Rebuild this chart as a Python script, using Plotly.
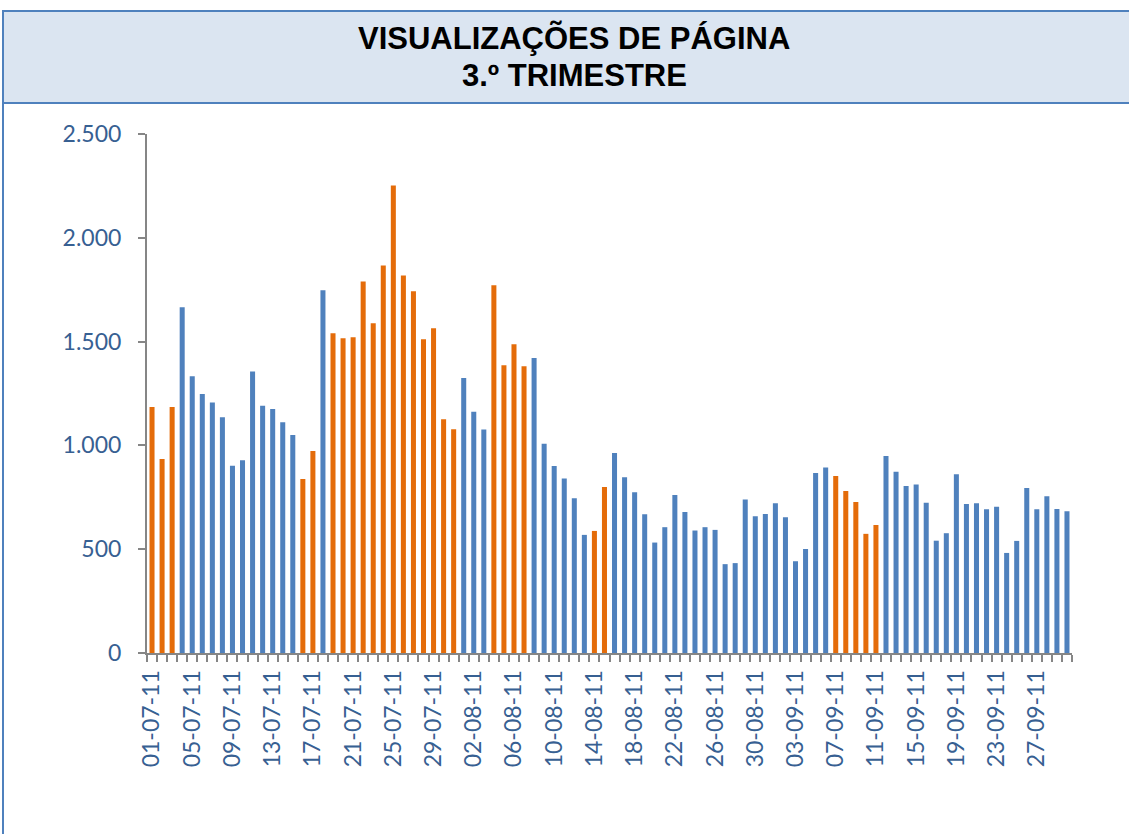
import plotly.graph_objects as go

# ---- data ----
july = [1185, 935, 1185, 1665, 1333, 1248, 1207, 1135, 902, 928, 1356, 1191, 1175, 1111, 1050,
        838, 973, 1747, 1540, 1516, 1521, 1790, 1588, 1867, 2252, 1819, 1742, 1511, 1564, 1126, 1078]
august = [1325, 1162, 1077, 1771, 1386, 1487, 1381, 1421, 1008, 901, 841, 745, 569, 588, 800,
          963, 846, 774, 668, 532, 606, 761, 679, 590, 606, 593, 428, 433, 740, 659, 670]
september = [721, 654, 442, 501, 867, 894, 852, 780, 727, 574, 617, 949, 873, 804, 812,
             724, 541, 577, 861, 718, 721, 692, 705, 482, 540, 795, 692, 755, 694, 683]

# days highlighted in orange (day-of-month lists)
july_orange = [1, 2, 3, 16, 17] + list(range(19, 32))
august_orange = [4, 5, 6, 7, 14, 15]
september_orange = [7, 8, 9, 10, 11]

dates = ([f"{d:02d}-07-11" for d in range(1, 32)] +
         [f"{d:02d}-08-11" for d in range(1, 32)] +
         [f"{d:02d}-09-11" for d in range(1, 31)])
values = july + august + september
highlight = ([d in july_orange for d in range(1, 32)] +
             [d in august_orange for d in range(1, 32)] +
             [d in september_orange for d in range(1, 31)])

title_line1 = "VISUALIZAÇÕES DE PÁGINA"
title_line2 = "3.º TRIMESTRE"
y_ticks = [0, 500, 1000, 1500, 2000, 2500]

# ---- styles ----
BLUE = "#4F81BD"
ORANGE = "#E46C0A"
LABEL = "#376092"
AXIS = "#868686"

W, H = 1129, 834
L, R, T, B = 147, 57, 134, 181
PW, PH = W - L - R, H - T - B


def px_x(p):
    return (p - L) / PW


def px_y(p):
    return (H - B - p) / PH


colors = [ORANGE if h else BLUE for h in highlight]
ticktext = [d if i % 4 == 0 else "" for i, d in enumerate(dates)]

fig = go.Figure(go.Bar(x=dates, y=values, marker=dict(color=colors, line=dict(width=0)),
                       hoverinfo="x+y"))

fig.update_layout(
    width=W, height=H,
    margin=dict(l=L, r=R, t=T, b=B),
    paper_bgcolor="white", plot_bgcolor="white",
    bargap=0.5,
    separators=",.",
    showlegend=False,
    font=dict(family="Lato", color=LABEL),
    shapes=[
        dict(type="rect", xref="paper", yref="paper",
             x0=px_x(3), x1=px_x(1145), y0=px_y(850), y1=px_y(11),
             line=dict(color=BLUE, width=2), fillcolor="rgba(0,0,0,0)", layer="below"),
        dict(type="rect", xref="paper", yref="paper",
             x0=px_x(3), x1=px_x(1145), y0=px_y(103), y1=px_y(11),
             line=dict(color=BLUE, width=2), fillcolor="#DBE5F1", layer="below"),
    ],
    annotations=[
        dict(text=f"<b>{title_line1}</b>", xref="paper", yref="paper",
             x=px_x(574), y=px_y(38), xanchor="center", yanchor="middle", showarrow=False,
             font=dict(family="Liberation Sans, Arial", size=31, color="black")),
        dict(text=f"<b>{title_line2}</b>", xref="paper", yref="paper",
             x=px_x(574), y=px_y(75), xanchor="center", yanchor="middle", showarrow=False,
             font=dict(family="Liberation Sans, Arial", size=31, color="black")),
    ],
)

fig.update_xaxes(
    type="category",
    tickmode="array", tickvals=dates, ticktext=ticktext,
    tickson="boundaries",
    ticks="outside", ticklen=7, tickcolor=AXIS, tickwidth=2,
    tickangle=-90,
    tickfont=dict(family="Lato", size=23, color=LABEL),
    ticklabelstandoff=6,
    showline=True, linecolor=AXIS, linewidth=2,
    showgrid=False, zeroline=False,
    range=[-0.5, len(dates) - 0.5],
)

fig.update_yaxes(
    range=[0, 2500],
    tickmode="array", tickvals=y_ticks,
    tickformat=",d",
    ticks="outside", ticklen=7, tickcolor=AXIS, tickwidth=2,
    tickfont=dict(family="Lato", size=23, color=LABEL),
    ticklabelstandoff=12,
    showline=True, linecolor=AXIS, linewidth=2,
    showgrid=False, zeroline=False,
)

fig.write_html("out.html",
               config={"displayModeBar": False},
               post_script="document.body.style.margin='0';document.body.style.overflow='hidden';")
